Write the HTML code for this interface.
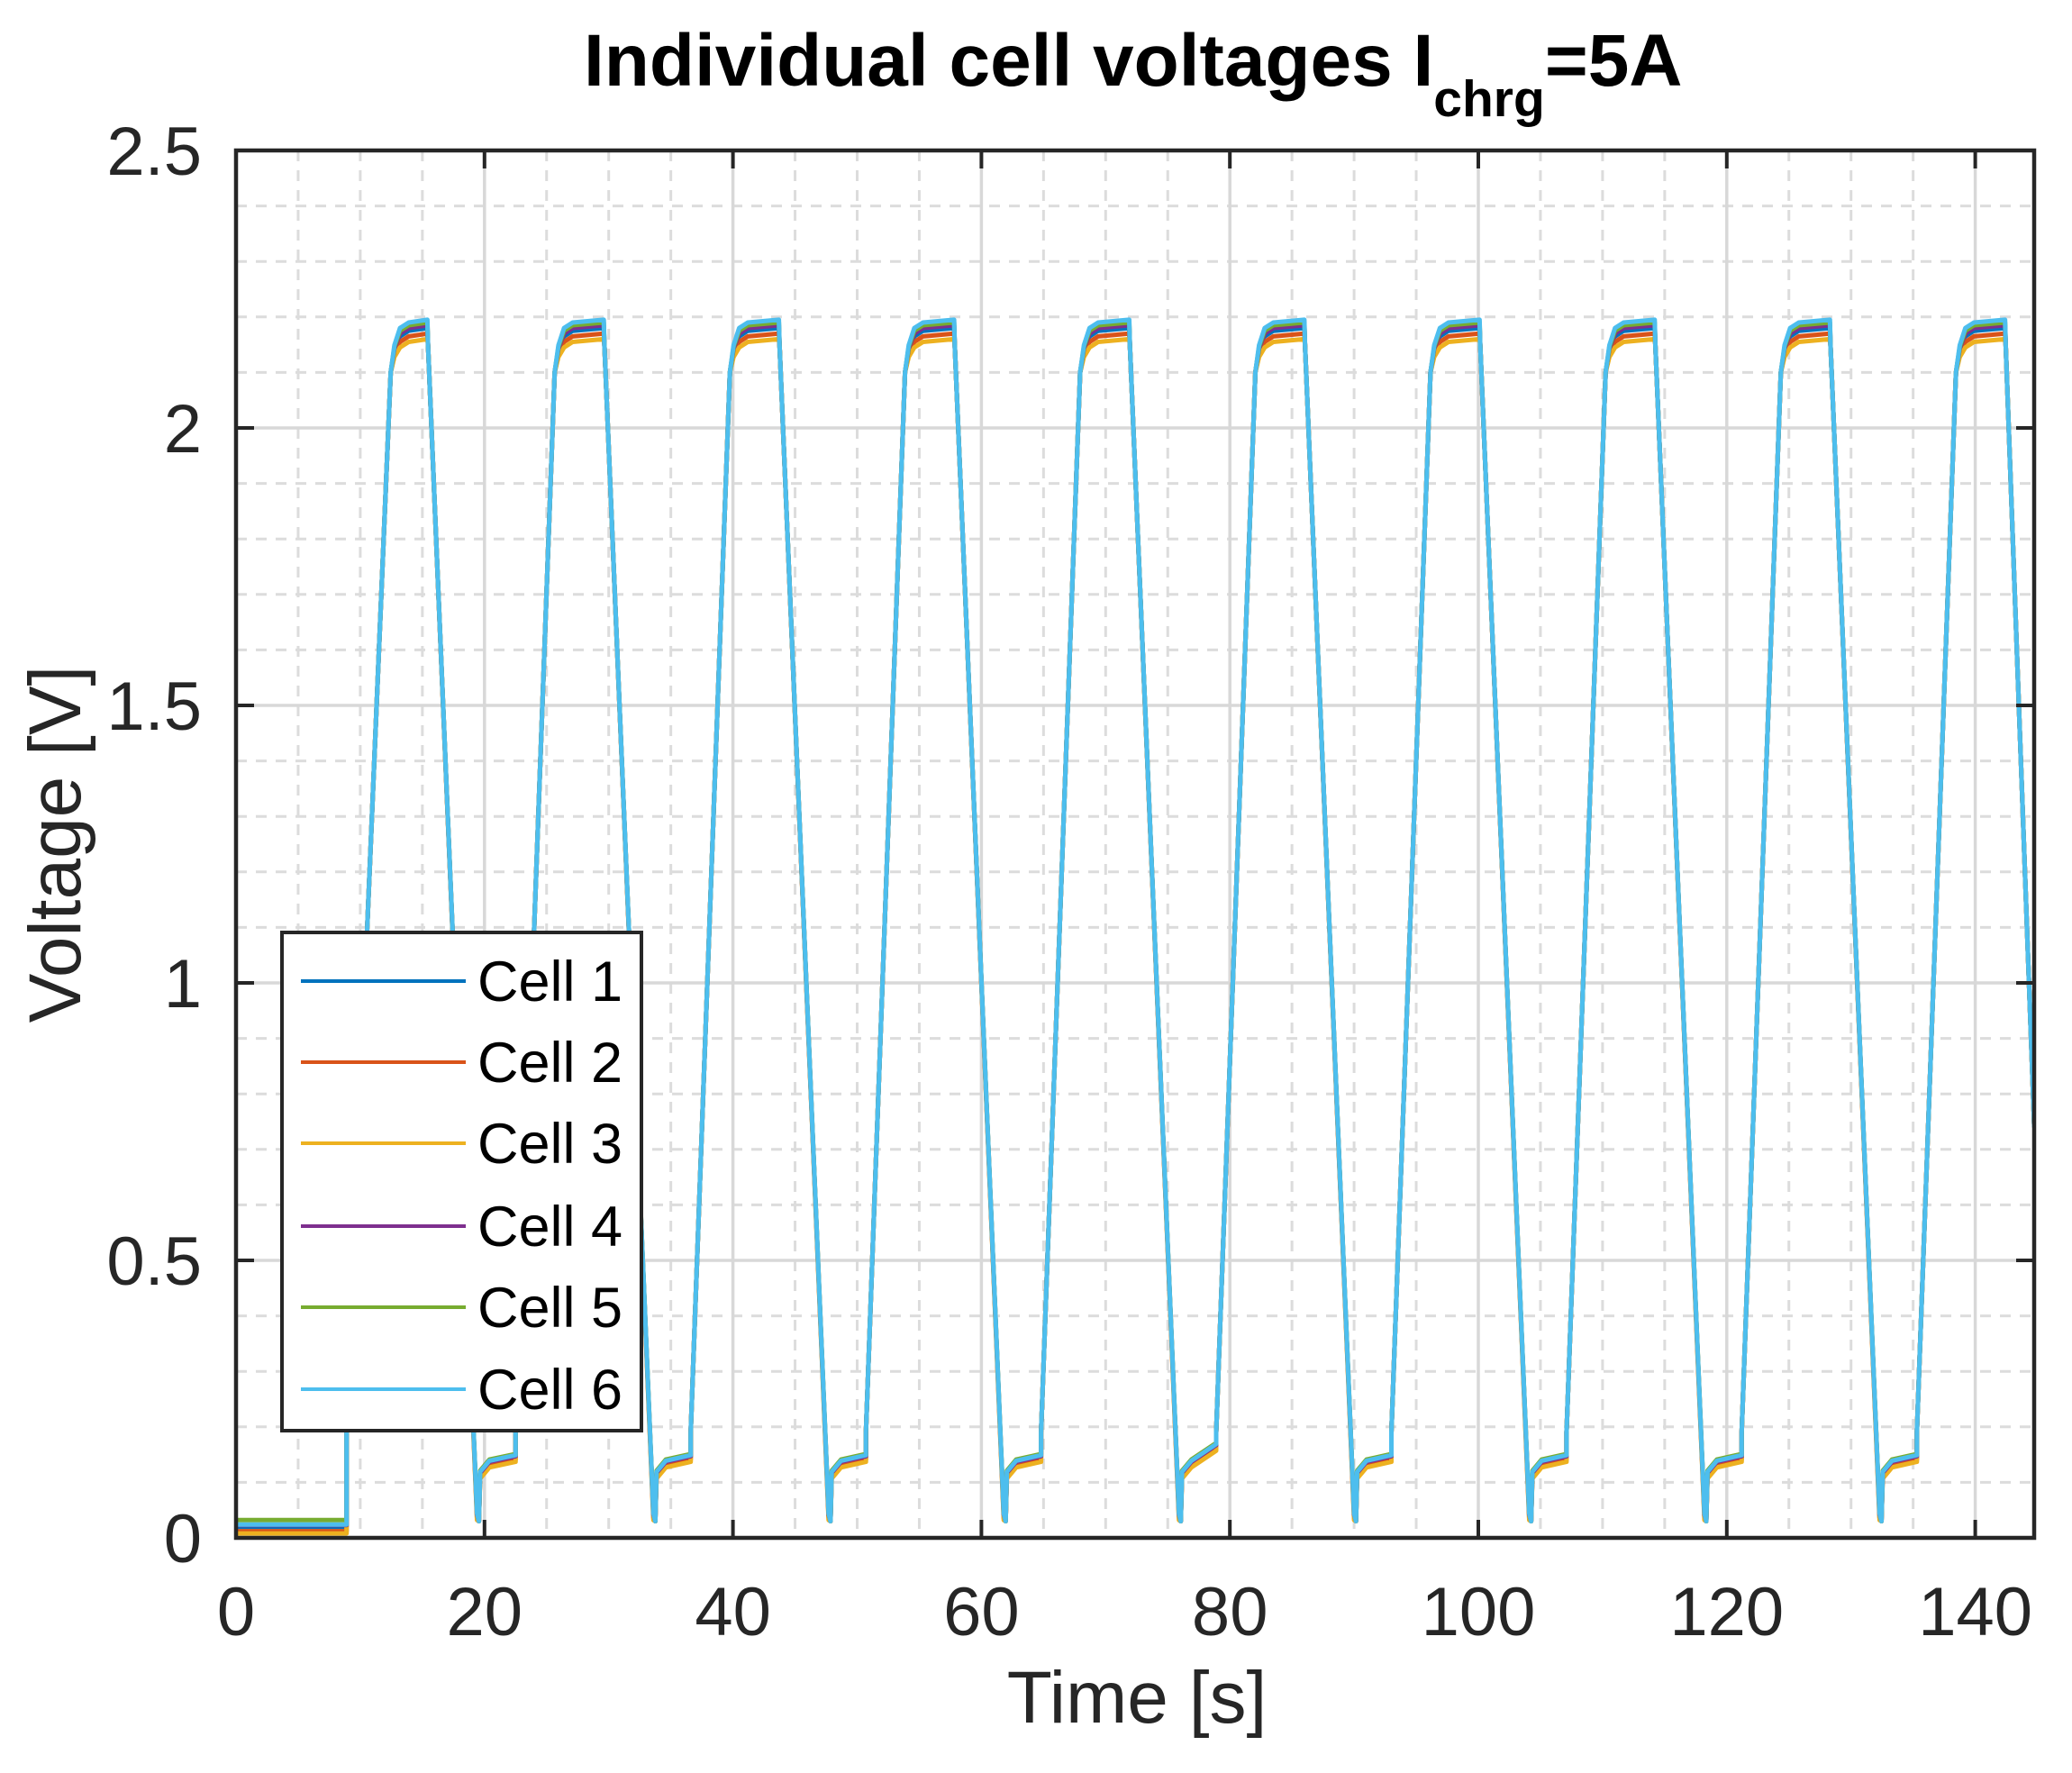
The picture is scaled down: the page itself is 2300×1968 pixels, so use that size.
<!DOCTYPE html>
<html><head><meta charset="utf-8"><style>
html,body{margin:0;padding:0;background:#fff;}
svg{display:block;font-family:"Liberation Sans",Arial,sans-serif;}
</style></head><body>
<svg id="s" width="2300" height="1968" viewBox="0 0 2300 1968" xmlns="http://www.w3.org/2000/svg">
<rect width="2300" height="1968" fill="#fff"/>
<g id="grid"></g>
<g id="data" clip-path="url(#cp)"></g>
<defs><clipPath id="cp"><rect x="262" y="167" width="1996" height="1540"/></clipPath></defs>
<g id="ticks"></g>
<rect x="262" y="167" width="1996" height="1540" fill="none" stroke="#262626" stroke-width="4.5"/>
<text x="648" y="95" font-size="82" font-weight="bold" fill="#000">Individual cell voltages I<tspan font-size="57" dy="34">chrg</tspan><tspan dy="-34">=5A</tspan></text>
<text x="1262" y="1912" font-size="82" text-anchor="middle" fill="#262626">Time [s]</text>
<text transform="translate(89,937) rotate(-90)" font-size="82" text-anchor="middle" fill="#262626">Voltage [V]</text>
<g id="legend">
<rect x="313" y="1035" width="399" height="553" fill="#fff" stroke="#262626" stroke-width="4"/>
</g>
</svg>
<script>
(function(){
var NS="http://www.w3.org/2000/svg";
var L=262,R=2258,T=167,B=1707;
var px=13.79, py=616;
function X(t){return L+t*px;}
function Y(v){return B-v*py;}
function el(p,name,attrs,txt){var e=document.createElementNS(NS,name);for(var k in attrs)e.setAttribute(k,attrs[k]);if(txt!==undefined)e.textContent=txt;p.appendChild(e);return e;}
var g=document.getElementById('grid'), tk=document.getElementById('ticks');
for(var t=5;t<145;t+=5){ if(t%20==0) continue; el(g,'line',{x1:X(t),x2:X(t),y1:T,y2:B,stroke:'#dcdcdc','stroke-width':3,'stroke-dasharray':'12 10'});}
for(var i=1;i<25;i++){ if(i%5==0) continue; var v=i*0.1; el(g,'line',{x1:L,x2:R,y1:Y(v),y2:Y(v),stroke:'#dcdcdc','stroke-width':3,'stroke-dasharray':'12 10'});}
for(var t=20;t<145;t+=20){ el(g,'line',{x1:X(t),x2:X(t),y1:T,y2:B,stroke:'#d8d8d8','stroke-width':3.5});}
for(var i=1;i<5;i++){ var v=i*0.5; el(g,'line',{x1:L,x2:R,y1:Y(v),y2:Y(v),stroke:'#d8d8d8','stroke-width':3.5});}
for(var t=0;t<=140;t+=20){ var x=X(t);
 el(tk,'line',{x1:x,x2:x,y1:B,y2:B-20,stroke:'#262626','stroke-width':4});
 el(tk,'line',{x1:x,x2:x,y1:T,y2:T+20,stroke:'#262626','stroke-width':4});
 el(tk,'text',{x:x,y:1815,'font-size':76,'text-anchor':'middle',fill:'#262626'},String(t));}
var yl=['0','0.5','1','1.5','2','2.5'];
for(var i=0;i<=5;i++){ var y=Y(i*0.5);
 el(tk,'line',{x1:L,x2:L+20,y1:y,y2:y,stroke:'#262626','stroke-width':4});
 el(tk,'line',{x1:R,x2:R-20,y1:y,y2:y,stroke:'#262626','stroke-width':4});
 el(tk,'text',{x:224,y:y+27,'font-size':76,'text-anchor':'end',fill:'#262626'},yl[i]);}
var cols=['#0072BD','#D95319','#EDB120','#7E2F8E','#77AC30','#4DBEEE'];
var dp=[0.0,-0.01,-0.02,0.005,0.01,0.015];
var dv=[0.0,-0.004,-0.008,0.002,0.006,0.004];
var d0=[0.0,-0.008,-0.012,0.003,0.012,0.004];
var dg=document.getElementById('data');
for(var c=0;c<6;c++){
 var pts=[];
 pts.push([0,0.02+d0[c]],[8.9,0.02+d0[c]],[8.9,0.22]);
 function peak(rs,re,fe){
   pts.push([re-0.05,2.10],[re+0.25,2.14+dp[c]*0.6],[re+0.7,2.165+dp[c]],[re+1.4,2.175+dp[c]],[fe,2.18+dp[c]],[fe+0.05,2.15]);
 }
 peak(8.9,12.5,15.4);
 var fb=19.4;
 pts.push([fb,0.04+dv[c]],[fb+0.15,0.03],[fb+0.25,0.115+dv[c]],[fb+1.0,0.135+dv[c]],[22.5,0.145+dv[c]],[22.5,0.19]);
 for(var k=1;k<10;k++){
   var s=22.5+(k-1)*14.1;
   peak(s,s+3.2,s+7.1);
   var b=s+11.1;
   if(k<9) pts.push([b,0.04+dv[c]],[b+0.15,0.03],[b+0.25,0.115+dv[c]],[b+1.0,0.135+dv[c]],[s+14.1,0.145+dv[c]+(k==4?0.02:0)],[s+14.1,0.19]);
   else pts.push([144.75,0.74]);
 }
 var d='';
 for(var j=0;j<pts.length;j++){ d+=(j?'L':'M')+X(pts[j][0]).toFixed(1)+' '+Y(pts[j][1]).toFixed(1);}
 el(dg,'path',{d:d,fill:'none',stroke:cols[c],'stroke-width':5,'stroke-linejoin':'round'});
}
var lg=document.getElementById('legend');
var rows=[1089,1179,1269,1361,1451,1542];
for(var i=0;i<6;i++){
 el(lg,'line',{x1:334,x2:517,y1:rows[i],y2:rows[i],stroke:cols[i],'stroke-width':4});
 el(lg,'text',{x:530,y:rows[i]+22,'font-size':63,fill:'#000'},'Cell '+(i+1));
}
})();
</script>
</body></html>
